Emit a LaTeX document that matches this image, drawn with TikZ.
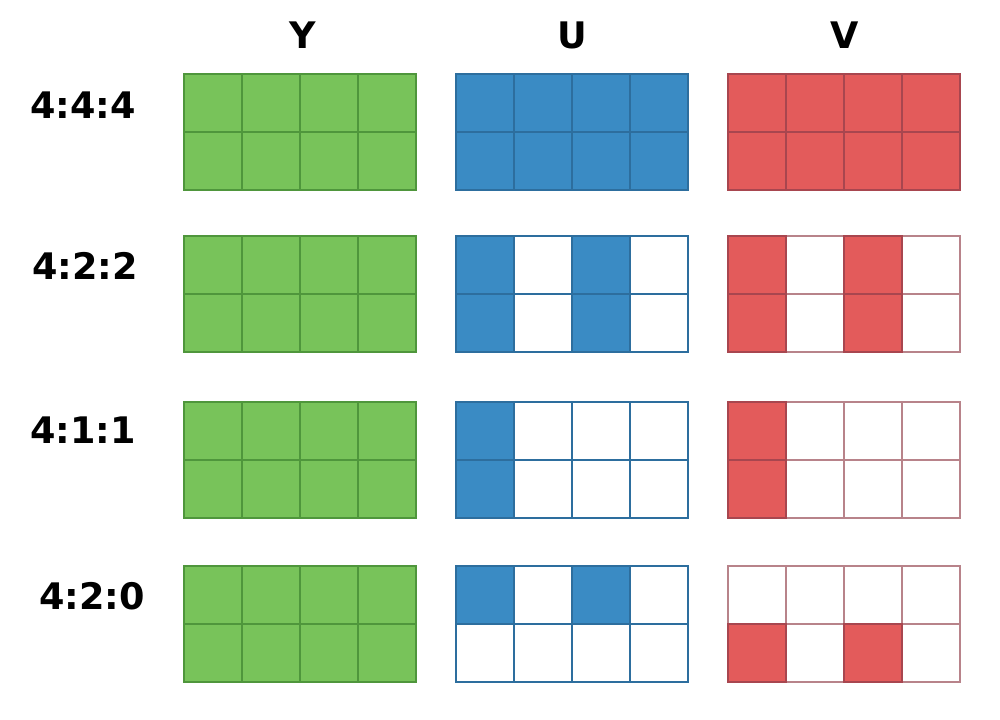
\documentclass[tikz,border=0pt]{standalone}
\usepackage{fontspec}
\setmainfont{DejaVu Sans}
\usetikzlibrary{positioning}

\definecolor{lumagreen}{HTML}{78C35A}
\definecolor{lumaline}{HTML}{4F963C}
\definecolor{chromablue}{HTML}{3A8BC4}
\definecolor{blueline}{HTML}{2D6E9E}
\definecolor{chromared}{HTML}{E35B5B}
\definecolor{redline}{HTML}{A8464F}
\definecolor{redpale}{HTML}{B8838A}

\tikzset{
  cell/.style={draw, line width=1.4pt, minimum size=1.45cm, inner sep=0pt, outer sep=0pt, anchor=north west},
  ycell/.style={cell, fill=lumagreen, draw=lumaline},
  uempty/.style={cell, fill=white, draw=blueline},
  ucell/.style={cell, fill=chromablue, draw=blueline},
  vempty/.style={cell, fill=white, draw=redpale},
  vcell/.style={cell, fill=chromared, draw=redline},
  heading/.style={font=\bfseries\fontsize{26}{30}\selectfont}
}

\begin{document}
\begin{tikzpicture}[x=0.025cm,y=-0.025cm]
  \useasboundingbox (0,0) rectangle (1000,720);

  %  Define nodes
  \node[heading] (ylabel) at (303,35) {Y};
  \node[heading] (ulabel) at (572,35) {U};
  \node[heading] (vlabel) at (845,35) {V};
  \node[heading] (fourfourfour) at (83,105) {4:4:4};
  \node[heading] (fourtwotwo) at (85,266) {4:2:2};
  \node[heading] (fouroneone) at (83,430) {4:1:1};
  \node[heading] (fourtwozero) at (92,596) {4:2:0};

  % Sample grids
  \foreach \ry [count=\r] in {74,236,402,566}
    \foreach \c in {0,...,3}
      \foreach \k in {0,1} {
        \node[ycell] (y\r\c\k) at (184+58*\c,\ry+58*\k) {};
        \node[uempty] (u\r\c\k) at (456+58*\c,\ry+58*\k) {};
        \node[vempty] (v\r\c\k) at (728+58*\c,\ry+58*\k) {};
      }

  % Chroma samples
  \foreach \r/\ry/\cols/\ks in {1/74/{0,1,2,3}/{0,1}, 2/236/{0,2}/{0,1}, 3/402/{0}/{0,1}, 4/566/{0,2}/{0}}
    \foreach \c in \cols
      \foreach \k in \ks
        \node[ucell] (u\r\c\k) at (456+58*\c,\ry+58*\k) {};
  \foreach \r/\ry/\cols/\ks in {1/74/{0,1,2,3}/{0,1}, 2/236/{0,2}/{0,1}, 3/402/{0}/{0,1}, 4/566/{0,2}/{1}}
    \foreach \c in \cols
      \foreach \k in \ks
        \node[vcell] (v\r\c\k) at (728+58*\c,\ry+58*\k) {};

\end{tikzpicture}
\end{document}
